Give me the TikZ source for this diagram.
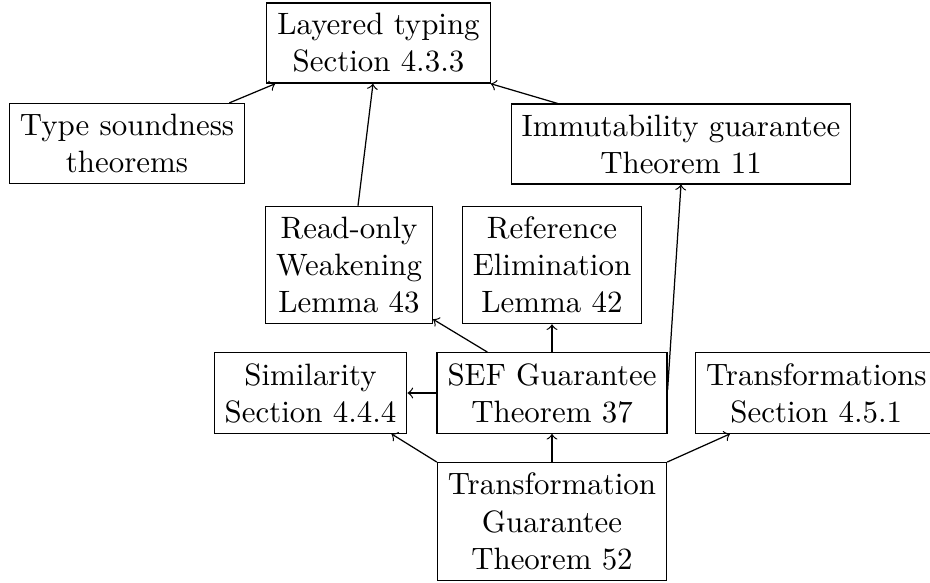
\documentclass[tikz,border=0pt]{standalone}
\usetikzlibrary{calc}
\begin{document}
\begin{tikzpicture}[x=0.3236pt, y=-0.3236pt,
  box/.style={draw, align=center, inner sep=3.4pt},
  dep/.style={->}]
\useasboundingbox (0,0) rectangle (930,583);

% theorem / lemma boxes
\node[box] (layered)   at (378.5,43)  {Layered typing\\Section 4.3.3};
\node[box] (soundness) at (127,143.5) {Type soundness\\theorems};
\node[box] (immut)     at (681,144)   {Immutability guarantee\\Theorem 11};
\node[box] (readonly)  at (349,265)   {Read-only\\Weakening\\Lemma 43};
\node[box] (refelim)   at (552,265)   {Reference\\Elimination\\Lemma 42};
\node[box] (similar)   at (310.5,393) {Similarity\\Section 4.4.4};
\node[box] (sef)       at (552,393)   {SEF Guarantee\\Theorem 37};
\node[box, anchor=west] (trans) at (695,393) {Transformations\\Section 4.5.1};
\node[box] (tg)        at (552,521.5) {Transformation\\Guarantee\\Theorem 52};

% dependencies
\draw[dep] ($(soundness.north east)+(-16,0)$) -- ($(layered.south west)+(9,0)$);
\draw[dep] ($(readonly.north)+(9,0)$) -- ($(layered.south)+(-5.5,0)$);
\draw[dep] ($(immut.north west)+(47,0)$) -- (layered.south east);
\draw[dep] ($(sef.north west)+(51,0)$) -- ($(readonly.south east)+(0,-5)$);
\draw[dep] (sef.north) -- (refelim.south);
\draw[dep] (sef.west) -- (similar.east);
\draw[dep] ($(sef.east)+(0,-3)$) -- (immut.south);
\draw[dep] (tg.north) -- (sef.south);
\draw[dep] (tg.north west) -- ($(similar.south east)+(-16,0)$);
\draw[dep] (tg.north east) -- ($(trans.south west)+(35,0)$);
\end{tikzpicture}
\end{document}
